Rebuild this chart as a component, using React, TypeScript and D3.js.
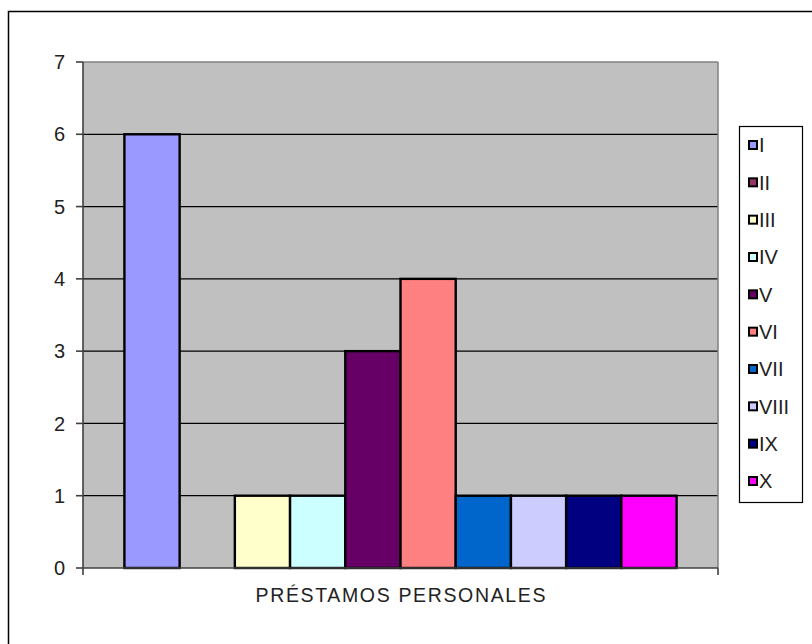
import React from "react";
import * as d3 from "d3";

const categories = ["PRÉSTAMOS PERSONALES"];
const seriesNames = ["I", "II", "III", "IV", "V", "VI", "VII", "VIII", "IX", "X"];
const seriesValues = [6, 0, 1, 1, 3, 4, 1, 1, 1, 1];
const seriesColors = ["#9999FF", "#993366", "#FFFFCC", "#CCFFFF", "#660066", "#FF8080", "#0066CC", "#CCCCFF", "#000080", "#FF00FF"];
const yTicks = [0, 1, 2, 3, 4, 5, 6, 7];

const W = 812, H = 644;
const plot = { left: 83, right: 718, top: 62, bottom: 568 };
const font = "'Liberation Sans', Arial, sans-serif";

export default function App() {
  const x = d3.scaleBand<string>().domain(seriesNames).range([plot.left, plot.right]).paddingInner(0).paddingOuter(0.75);
  const y = d3.scaleLinear().domain([0, 7]).range([plot.bottom, plot.top]);
  const legendY = d3.scalePoint<string>().domain(seriesNames).range([145, 481]);

  return (
    <svg width={W} height={H} style={{ position: "absolute", left: 0, top: 0, background: "#fff" }} fontFamily={font}>
      <rect x={8.5} y={11.5} width={1000} height={1000} fill="#fff" stroke="#000" strokeWidth={1.5} />
      <rect x={plot.left} y={plot.top} width={plot.right - plot.left} height={plot.bottom - plot.top} fill="#C0C0C0" />
      {yTicks.filter(t => t > 0 && t < 7).map(t => (
        <line key={"g" + t} x1={plot.left} x2={plot.right} y1={y(t)} y2={y(t)} stroke="#000" strokeWidth={1.3} />
      ))}
      <line x1={plot.left} x2={plot.right} y1={plot.top} y2={plot.top} stroke="#808080" strokeWidth={1.5} />
      <line x1={plot.right} x2={plot.right} y1={plot.top} y2={plot.bottom} stroke="#808080" strokeWidth={1.5} />
      {seriesNames.map((s, i) => seriesValues[i] > 0 ? (
        <rect key={s} x={x(s)!} y={y(seriesValues[i])} width={x.bandwidth()} height={y(0) - y(seriesValues[i])}
          fill={seriesColors[i]} stroke="#000" strokeWidth={2.4} />
      ) : null)}
      <line x1={plot.left} x2={plot.left} y1={plot.top} y2={plot.bottom} stroke="#404040" strokeWidth={1.6} />
      <line x1={plot.left} x2={plot.right} y1={plot.bottom} y2={plot.bottom} stroke="#404040" strokeWidth={1.6} />
      {yTicks.map(t => (
        <g key={"t" + t}>
          <line x1={plot.left - 7} x2={plot.left} y1={y(t)} y2={y(t)} stroke="#404040" strokeWidth={1.6} />
          <text x={65} y={y(t)} dy="0.36em" textAnchor="end" fontSize={20} fill="#222">{t}</text>
        </g>
      ))}
      <line x1={plot.left} x2={plot.left} y1={plot.bottom} y2={plot.bottom + 7} stroke="#404040" strokeWidth={1.6} />
      <line x1={plot.right} x2={plot.right} y1={plot.bottom} y2={plot.bottom + 7} stroke="#404040" strokeWidth={1.6} />
      <text x={(plot.left + plot.right) / 2} y={602} textAnchor="middle" fontSize={19.5} fill="#222"
        textLength={290} lengthAdjust="spacing">{categories[0]}</text>
      <rect x={739.5} y={126.5} width={63} height={376} fill="#fff" stroke="#000" strokeWidth={1.2} />
      {seriesNames.map((s, i) => (
        <g key={"l" + s}>
          <rect x={749} y={legendY(s)! - 4} width={8} height={8} fill={seriesColors[i]} stroke="#000" strokeWidth={2} />
          <text x={759} y={legendY(s)!} dy="0.36em" fontSize={20} fill="#222">{s}</text>
        </g>
      ))}
    </svg>
  );
}
